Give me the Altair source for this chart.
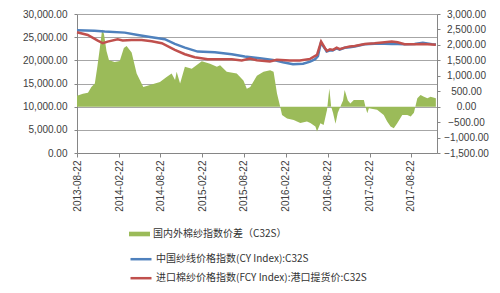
import altair as alt
import pandas as pd

SPREAD_NAME = "国内外棉纱指数价差（C32S）"
CY_NAME = "中国纱线价格指数(CY Index):C32S"
FCY_NAME = "进口棉纱价格指数(FCY Index):港口提货价:C32S"

GREEN = "#9bbb59"
BLUE = "#4f81bd"
RED = "#c0504d"

spread_dates = [
    "2013-08-22", "2013-09-17", "2013-10-09", "2013-10-24", "2013-11-08", "2013-11-19",
    "2013-11-30", "2013-12-10", "2013-12-18", "2013-12-29", "2014-01-09", "2014-02-03",
    "2014-02-25", "2014-03-15", "2014-03-27", "2014-04-18", "2014-05-10", "2014-06-08",
    "2014-07-07", "2014-08-20", "2014-09-18", "2014-10-10", "2014-10-25", "2014-11-01",
    "2014-11-16", "2014-12-07", "2015-01-06", "2015-02-19", "2015-03-27", "2015-04-26",
    "2015-05-10", "2015-06-08", "2015-07-22", "2015-08-20", "2015-09-04", "2015-09-19",
    "2015-10-18", "2015-11-16", "2015-12-15", "2015-12-30", "2016-01-14", "2016-01-28",
    "2016-02-05", "2016-02-27", "2016-03-27", "2016-04-25", "2016-05-24", "2016-06-08",
    "2016-06-30", "2016-07-07", "2016-07-22", "2016-08-05", "2016-08-20", "2016-08-30",
    "2016-09-07", "2016-09-15", "2016-09-26", "2016-10-06", "2016-10-17", "2016-10-29",
    "2016-11-05", "2016-11-19", "2016-11-30", "2016-12-15", "2017-01-28", "2017-02-04",
    "2017-02-12", "2017-02-19", "2017-03-27", "2017-04-25", "2017-05-10", "2017-05-25",
    "2017-06-08", "2017-06-23", "2017-07-15", "2017-08-06", "2017-08-21", "2017-09-04",
    "2017-09-19", "2017-10-03", "2017-10-18", "2017-11-02", "2017-11-16", "2017-12-09",
]
spread_values = [
    350, 420, 450, 640, 750, 1290,
    1900, 2500, 2350, 1800, 1500, 1450,
    1480, 1900, 1960, 1750, 1070, 640,
    700, 800, 960, 1070, 860, 1130,
    750, 1290, 1230, 1470, 1390, 1290,
    1340, 1130, 1070, 850, 580, 640,
    1000, 1130, 1180, 1130, 430, 0,
    -270, -380, -430, -530, -480, -530,
    -640, -800, -540, -590, -100, 590,
    0, -200, -550, -200, 0, 200,
    540, 200, 100, 215, 215, 0,
    -215, -50, -100, -270, -480, -640,
    -700, -540, -270, -270, -320, -200,
    270, 375, 320, 270, 320, 270,
]

cy_dates = [
    "2013-08-22", "2013-11-07", "2013-12-21", "2014-03-19", "2014-05-15", "2014-07-15",
    "2014-09-10", "2014-10-24", "2014-12-07", "2015-02-01", "2015-04-17", "2015-06-30",
    "2015-08-26", "2015-10-31", "2015-12-27", "2016-02-09", "2016-03-24", "2016-05-07",
    "2016-06-07", "2016-06-29", "2016-07-11", "2016-07-24", "2016-08-11", "2016-08-18",
    "2016-08-31", "2016-09-13", "2016-10-01", "2016-10-14", "2016-11-05", "2016-11-27",
    "2016-12-19", "2017-02-01", "2017-03-16", "2017-04-29", "2017-05-30", "2017-06-25",
    "2017-07-25", "2017-09-07", "2017-10-13", "2017-11-22", "2017-12-09",
]
cy_values = [
    26500, 26400, 26200, 25980, 25480, 24990,
    24560, 23540, 22750, 21880, 21750, 21320,
    20810, 20460, 20100, 19600, 19170, 19250,
    19730, 20240, 20900, 23800, 22500, 21900,
    22100, 22100, 22600, 22300, 22700, 22800,
    23000, 23450, 23600, 23600, 23500, 23500,
    23450, 23550, 23800, 23500, 23400,
]

fcy_dates = [
    "2013-08-22", "2013-10-08", "2013-11-21", "2013-12-13", "2014-01-03", "2014-02-16",
    "2014-03-10", "2014-04-18", "2014-06-01", "2014-07-15", "2014-08-28", "2014-10-24",
    "2014-12-07", "2015-01-19", "2015-03-17", "2015-06-30", "2015-08-13", "2015-09-17",
    "2015-10-18", "2015-12-14", "2016-01-13", "2016-03-10", "2016-04-23", "2016-06-07",
    "2016-07-07", "2016-07-25", "2016-08-11", "2016-08-20", "2016-09-02", "2016-09-15",
    "2016-10-01", "2016-10-14", "2016-11-05", "2016-11-27", "2016-12-19", "2017-02-01",
    "2017-03-16", "2017-04-29", "2017-05-30", "2017-06-25", "2017-07-25", "2017-09-07",
    "2017-10-13", "2017-11-22", "2017-12-09",
]
fcy_values = [
    26060, 25480, 24260, 23690, 24040, 24560,
    24300, 24400, 24400, 24120, 23690, 22250,
    21320, 20680, 20240, 20240, 19950, 20400,
    20030, 19730, 20100, 19950, 19950, 20310,
    21170, 24040, 22620, 22040, 22400, 22250,
    22750, 22400, 22750, 22970, 23110, 23540,
    23690, 23900, 24040, 23900, 23480, 23480,
    23500, 23400, 23350,
]

x_tick_labels = [
    "2013-08-22", "2014-02-22", "2014-08-22", "2015-02-22", "2015-08-22",
    "2016-02-22", "2016-08-22", "2017-02-22", "2017-08-22",
]
x_domain = ["2013-08-22", "2017-12-14"]
left_ticks = [0, 5000, 10000, 15000, 20000, 25000, 30000]
right_ticks = [-1500, -1000, -500, 0, 500, 1000, 1500, 2000, 2500, 3000]


def to_dt(s):
    y, m, d = (int(p) for p in s.split("-"))
    return alt.DateTime(year=y, month=m, date=d)


spread_df = pd.DataFrame({"date": spread_dates, "value": spread_values, "series": SPREAD_NAME})
cy_df = pd.DataFrame({"date": cy_dates, "value": cy_values, "series": CY_NAME})
fcy_df = pd.DataFrame({"date": fcy_dates, "value": fcy_values, "series": FCY_NAME})


def xenc():
    return alt.X(
        "date:T",
        scale=alt.Scale(domain=[to_dt(s) for s in x_domain]),
        axis=alt.Axis(
            values=[to_dt(s) for s in x_tick_labels],
            format="%Y-%m-%d",
            labelAngle=-90,
            title=None,
            grid=False,
            tickSize=4,
            labelPadding=3,
        ),
    )


area = alt.Chart(spread_df).mark_area(opacity=1, color=GREEN).encode(
    x=xenc(),
    y=alt.Y(
        "value:Q",
        scale=alt.Scale(domain=[-1500, 3000], nice=False),
        axis=alt.Axis(
            orient="right",
            values=right_ticks,
            format=",.2f",
            grid=False,
            title=None,
            tickSize=3,
            labelAlign="center",
            labelPadding=26,
        ),
    ),
    fill=alt.Fill(
        "series:N",
        scale=alt.Scale(domain=[SPREAD_NAME], range=[GREEN]),
        legend=alt.Legend(
            orient="none",
            legendX=52,
            legendY=209.5,
            direction="vertical",
            title=None,
            symbolType="M-1,-0.22H1V0.22H-1Z",
            symbolSize=441,
            symbolStrokeWidth=0,
            symbolOpacity=1,
            labelFont="Noto Sans CJK SC",
            labelFontSize=10,
            labelColor="#333333",
            labelOffset=3,
            labelLimit=400,
            padding=0,
        ),
    ),
)

stroke_scale = alt.Scale(domain=[CY_NAME, FCY_NAME], range=[BLUE, RED])
stroke_legend = alt.Legend(
    orient="none",
    legendX=52,
    legendY=233.2,
    direction="vertical",
    title=None,
    symbolType="stroke",
    symbolSize=441,
    symbolStrokeWidth=2.5,
    labelFont="Noto Sans CJK SC",
    labelFontSize=10,
    labelColor="#333333",
    labelOffset=3,
    labelLimit=400,
    rowPadding=2,
    padding=0,
)


def yleft():
    return alt.Y(
        "value:Q",
        scale=alt.Scale(domain=[0, 30000], nice=False),
        axis=alt.Axis(
            orient="left",
            values=left_ticks,
            format=",.2f",
            grid=True,
            title=None,
            tickSize=3,
            labelPadding=7,
        ),
    )


blue = alt.Chart(cy_df).mark_line(strokeWidth=2.5).encode(
    x=xenc(), y=yleft(), stroke=alt.Stroke("series:N", scale=stroke_scale, legend=stroke_legend)
)
red = alt.Chart(fcy_df).mark_line(strokeWidth=2.5).encode(
    x=xenc(), y=yleft(), stroke=alt.Stroke("series:N", scale=stroke_scale, legend=stroke_legend)
)

lines = alt.layer(blue, red)

chart = (
    alt.layer(area, lines)
    .resolve_scale(y="independent")
    .properties(
        width=360,
        height=139,
        padding={"left": 77, "top": 14, "right": 63, "bottom": 140},
        autosize=alt.AutoSizeParams(type="none"),
    )
    .configure_view(stroke=None)
    .configure_axis(
        labelFont="Liberation Sans",
        labelFontSize=10,
        labelColor="#404040",
        domainColor="#868686",
        tickColor="#868686",
        gridColor="#a6a6a6",
    )
)

chart.save("out.html", embed_options={"renderer": "svg", "actions": False})
